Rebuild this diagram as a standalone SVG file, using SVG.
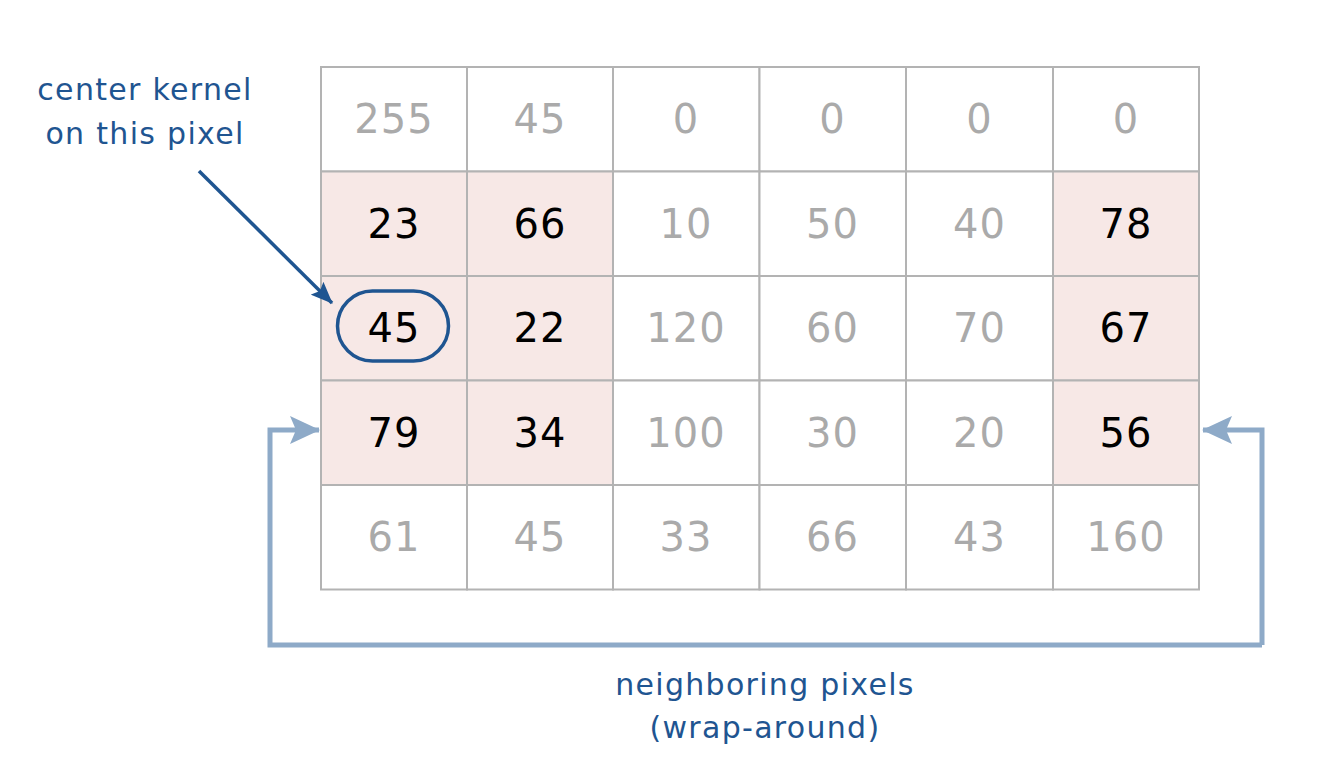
<svg xmlns="http://www.w3.org/2000/svg" width="1320" height="780" viewBox="0 0 1320 780">
<style>
.cell{fill:#ffffff;stroke:#b3b3b3;stroke-width:2}
.hl{fill:#f7e8e6}
.num{font-family:"DejaVu Sans",sans-serif;font-size:40px;text-anchor:middle;letter-spacing:1px}
.g{fill:#aaaaaa}
.k{fill:#000000}
.lbl{font-family:"DejaVu Sans",sans-serif;font-size:30px;fill:#1f5591;text-anchor:middle;letter-spacing:1.3px}
.wrap{fill:none;stroke:#8eaac8;stroke-width:5}
</style>
<defs>
<marker id="bluehead" viewBox="0 0 22 18" refX="21" refY="9" markerWidth="22" markerHeight="18" orient="auto" markerUnits="userSpaceOnUse">
<path d="M0,0 L22,9 L0,18 L4,9 Z" fill="#1f5591"/>
</marker>
<marker id="wraphead" viewBox="0 0 30 28" refX="29" refY="14" markerWidth="30" markerHeight="28" orient="auto" markerUnits="userSpaceOnUse">
<path d="M0,0 L30,14 L0,28 L6,14 Z" fill="#8eaac8"/>
</marker>
</defs>
<rect width="1320" height="780" fill="#ffffff"/>
<g id="grid">
<rect class="cell" x="321" y="67" width="146" height="104.5"/>
<rect class="cell" x="467" y="67" width="146" height="104.5"/>
<rect class="cell" x="613" y="67" width="146.5" height="104.5"/>
<rect class="cell" x="759.5" y="67" width="146.5" height="104.5"/>
<rect class="cell" x="906" y="67" width="147" height="104.5"/>
<rect class="cell" x="1053" y="67" width="146" height="104.5"/>

<rect class="cell hl" x="321" y="171.5" width="146" height="104.5"/>
<rect class="cell hl" x="467" y="171.5" width="146" height="104.5"/>
<rect class="cell" x="613" y="171.5" width="146.5" height="104.5"/>
<rect class="cell" x="759.5" y="171.5" width="146.5" height="104.5"/>
<rect class="cell" x="906" y="171.5" width="147" height="104.5"/>
<rect class="cell hl" x="1053" y="171.5" width="146" height="104.5"/>

<rect class="cell hl" x="321" y="276" width="146" height="104.5"/>
<rect class="cell hl" x="467" y="276" width="146" height="104.5"/>
<rect class="cell" x="613" y="276" width="146.5" height="104.5"/>
<rect class="cell" x="759.5" y="276" width="146.5" height="104.5"/>
<rect class="cell" x="906" y="276" width="147" height="104.5"/>
<rect class="cell hl" x="1053" y="276" width="146" height="104.5"/>

<rect class="cell hl" x="321" y="380.5" width="146" height="104.5"/>
<rect class="cell hl" x="467" y="380.5" width="146" height="104.5"/>
<rect class="cell" x="613" y="380.5" width="146.5" height="104.5"/>
<rect class="cell" x="759.5" y="380.5" width="146.5" height="104.5"/>
<rect class="cell" x="906" y="380.5" width="147" height="104.5"/>
<rect class="cell hl" x="1053" y="380.5" width="146" height="104.5"/>

<rect class="cell" x="321" y="485" width="146" height="104.5"/>
<rect class="cell" x="467" y="485" width="146" height="104.5"/>
<rect class="cell" x="613" y="485" width="146.5" height="104.5"/>
<rect class="cell" x="759.5" y="485" width="146.5" height="104.5"/>
<rect class="cell" x="906" y="485" width="147" height="104.5"/>
<rect class="cell" x="1053" y="485" width="146" height="104.5"/>
</g>
<g id="numbers">
<text class="num g" x="394" y="133">255</text>
<text class="num g" x="540" y="133">45</text>
<text class="num g" x="686" y="133">0</text>
<text class="num g" x="832.5" y="133">0</text>
<text class="num g" x="979.5" y="133">0</text>
<text class="num g" x="1126" y="133">0</text>

<text class="num k" x="394" y="237.5">23</text>
<text class="num k" x="540" y="237.5">66</text>
<text class="num g" x="686" y="237.5">10</text>
<text class="num g" x="832.5" y="237.5">50</text>
<text class="num g" x="979.5" y="237.5">40</text>
<text class="num k" x="1126" y="237.5">78</text>

<text class="num k" x="394" y="342">45</text>
<text class="num k" x="540" y="342">22</text>
<text class="num g" x="686" y="342">120</text>
<text class="num g" x="832.5" y="342">60</text>
<text class="num g" x="979.5" y="342">70</text>
<text class="num k" x="1126" y="342">67</text>

<text class="num k" x="394" y="446.5">79</text>
<text class="num k" x="540" y="446.5">34</text>
<text class="num g" x="686" y="446.5">100</text>
<text class="num g" x="832.5" y="446.5">30</text>
<text class="num g" x="979.5" y="446.5">20</text>
<text class="num k" x="1126" y="446.5">56</text>

<text class="num g" x="394" y="551">61</text>
<text class="num g" x="540" y="551">45</text>
<text class="num g" x="686" y="551">33</text>
<text class="num g" x="832.5" y="551">66</text>
<text class="num g" x="979.5" y="551">43</text>
<text class="num g" x="1126" y="551">160</text>
</g>
<g id="center-marker">
<rect x="337.5" y="291" width="111" height="70" rx="35" ry="35" fill="none" stroke="#1f5591" stroke-width="3.5"/>
</g>
<g id="center-label">
<text class="lbl" x="145" y="100">center kernel</text>
<text class="lbl" x="145" y="144">on this pixel</text>
</g>
<g id="wrap-label">
<text class="lbl" x="765" y="695">neighboring pixels</text>
<text class="lbl" x="765" y="738">(wrap-around)</text>
</g>
<g id="connectors">
<line x1="199" y1="171" x2="332" y2="303" stroke="#1f5591" stroke-width="3.5" marker-end="url(#bluehead)"/>
<path class="wrap" d="M1262,645 L270,645 L270,430 L319,430" marker-end="url(#wraphead)"/>
<path class="wrap" d="M1262,645 L1262,430 L1203,430" marker-end="url(#wraphead)"/>
</g>
</svg>
